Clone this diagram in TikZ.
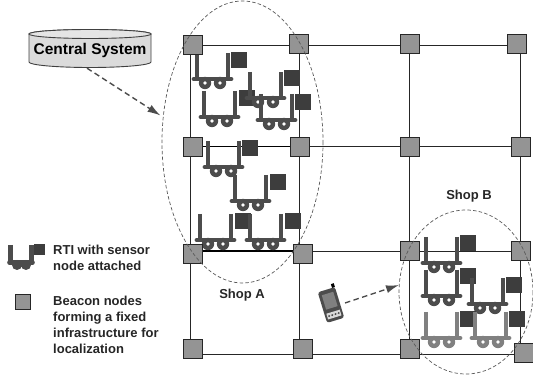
\documentclass[tikz,border=0pt]{standalone}
\usepackage{fontspec}
\setmainfont{Liberation Sans}
\usetikzlibrary{arrows.meta,calc}
\definecolor{cartdark}{gray}{0.30}
\definecolor{cartlight}{gray}{0.50}
\definecolor{sensordark}{gray}{0.24}
\tikzset{
  beacon/.style={draw=black!85,fill=black!42,line width=0.9pt,minimum size=19pt,inner sep=0,outer sep=0},
  sensor/.style={fill=sensordark,minimum size=15.5pt,inner sep=0,outer sep=0},
  gridline/.style={line width=0.9pt,black!85},
  shopring/.style={black!65,line width=0.7pt,dash pattern=on 3.5pt off 2.2pt},
  callout/.style={black!70,line width=1.4pt,dash pattern=on 5.5pt off 3.5pt,-{Latex[length=13pt,width=8pt]}},
  lbl/.style={font=\bfseries\fontsize{13pt}{16pt}\selectfont,align=left,text=black!85,inner sep=0},
  pics/cart/.style={code={
    \draw[#1,line width=4.8pt] (0,-26)--(0,0) (31,-26)--(31,0);
    \foreach \wx in {8,23}{
      \fill[#1] (\wx,4) circle (6.2);
    }
    \draw[#1,line width=4.8pt,line cap=round] (-3,0)--(34,0);
    \foreach \wx in {8,23}{
      \fill[white] (\wx,4) circle (1.9);
    }
  }}
}
\begin{document}
\begin{tikzpicture}[x=1pt,y=-1pt]
\useasboundingbox (0,0) rectangle (533,379);
\clip (0,0) rectangle (533,379);
% grid
\foreach \n/\x in {1/190,2/299.5,3/409.5,4/520.5}{
  \foreach \m/\y in {1/45,2/146.5,3/251,4/354}{
    \coordinate (g\n\m) at (\x,\y);
  }
}
\foreach \n in {1,2,3,4}{
  \draw[gridline] (g\n1)--(g\n4);
}
\foreach \m in {1,2,3,4}{
  \draw[gridline] (g1\m)--(g4\m);
}
\draw[gridline,line width=1.5pt,black] (g12)--(g22);
\draw[gridline,line width=1.5pt,black] (g13)--(g23);
% carts
\foreach \px/\py/\sx/\sy/\c in {
  197/79/239/60/cartdark,
  204/117/247/98/cartdark,
  250/98/292/78/cartdark,
  261/120/303/102/cartdark,
  208/167/250/148/cartdark,
  235/201/278/182/cartdark,
  200/240/243/221/cartdark,
  250/240/293/221/cartdark,
  426/263/468/243/cartdark,
  426/296/468/276/cartdark,
  472/304/514/285/cartdark,
  426/338/468/319/cartlight,
  475/338/517/319/cartlight}{
  \pic at (\px,\py) {cart=\c};
  \node[sensor] at (\sx,\sy) {};
}
% beacons
\foreach \nm/\x/\y in {
  b11/193/45, b21/299/44, b31/410/44, b41/517/44,
  b12/192.5/147,b22/299.5/147,b32/410/147,b42/521/147,
  b13/192.5/254,b23/303/254,b33/410/251,b43/521/251,
  b14/192.5/349,b24/303/349,b34/410/349,b44/524/353}{
  \node[beacon] (\nm) at (\x,\y) {};
}
% shop rings
\node[inner sep=0] (ringAanchor) at (242.5,142) {};
\draw[shopring] (ringAanchor) ellipse [x radius=80.5,y radius=141];
\coordinate (ringAhit) at (160.5,115.5);
\node[inner sep=0] (ringBanchor) at (466,292) {};
\draw[shopring] (ringBanchor) ellipse [x radius=67,y radius=82];
\coordinate (ringBhit) at (399,285);
% central system
\node[inner sep=0,minimum width=122pt,minimum height=38pt] (central) at (90,49) {};
\draw[black!75,fill=black!14,line width=0.9pt]
  (29,34) -- (29,62) arc[start angle=180,end angle=0,x radius=61,y radius=5.5] -- (151,34)
  arc[start angle=0,end angle=-180,x radius=61,y radius=4.5];
\draw[black!75,fill=black!10,line width=0.9pt] (90,34) ellipse [x radius=61,y radius=4.5];
\node[font=\bfseries\fontsize{15.5pt}{18pt}\selectfont,inner sep=0] at (90,50.5) {Central System};
\draw[callout] (central.south) ++(-3,0) coordinate (cstart) -- (ringAhit);
% labels
\node[lbl,anchor=north west] (rti) at (53,245) {RTI with sensor\\node attached};
\node[lbl,anchor=north west] (bea) at (53,295.5) {Beacon nodes\\forming a fixed\\infrastructure for\\localization};
\node[lbl] (shopa) at (242,295) {Shop A};
\node[lbl] (shopb) at (469,196) {Shop B};
% legend
\draw[cartdark,line width=4.6pt] (10.5,245)--(10.5,262) (31.5,245)--(31.5,262);
\fill[cartdark] (17,265) circle (5) (26,265) circle (5);
\draw[cartdark,line width=4.6pt,line cap=round] (9.5,262.5)--(32.5,262.5);
\node[sensor,minimum size=11pt] (legsensor) at (39,249.5) {};
\node[beacon,minimum size=15pt] (legbeacon) at (22.5,302) {};
% phone
\begin{scope}[shift={(331,305)},rotate=17]
  \node[inner sep=0,minimum width=20pt,minimum height=34pt] (phone) at (0,0) {};
  \fill[black!70,rounded corners=2.5pt] (-9,-16) -- (-9,16) -- (9,16) -- (9,-16) -- cycle;
  \fill[black!50] (-6,-12) rectangle (6,3);
  \fill[black!15] (-7,7) rectangle (7,13);
  \foreach \kx in {-5,-1.7,1.7,5}{\fill[black!70] (\kx,10) circle (1.1);}
  \fill[black] (6,-20) rectangle (9,-16);
\end{scope}
\draw[callout] (345,303) coordinate (pstart) -- (ringBhit);
\end{tikzpicture}
\end{document}
